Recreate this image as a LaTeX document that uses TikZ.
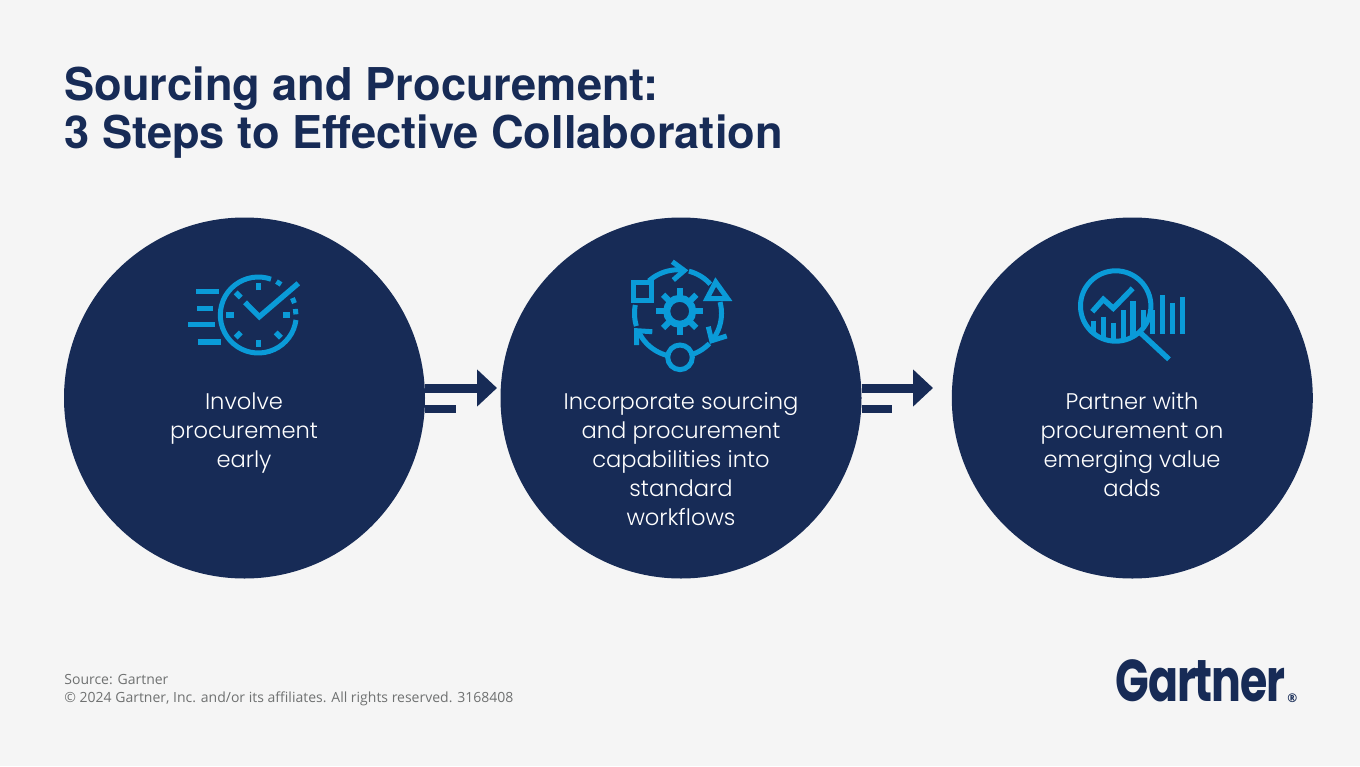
\documentclass[tikz,border=0pt]{standalone}
\usepackage{fontspec}
\usepackage{graphicx}
\usetikzlibrary{arrows.meta}
\setmainfont{Poppins}
\newfontfamily\titlefont{TeX Gyre Heros}
\newfontfamily\bodyfont{Poppins Light}
\newfontfamily\footfont{Open Sans}
\newfontfamily\logofont[LetterSpace=-2.5]{Poppins}
\definecolor{navy}{HTML}{172B56}
\definecolor{iconblue}{HTML}{0A9BD8}
\definecolor{pagebg}{HTML}{F5F5F5}
\definecolor{footgrey}{HTML}{6F7171}
\tikzset{
  bigdisc/.style={circle,fill=navy,draw=none,minimum size=180.5pt,inner sep=0pt,outer sep=0pt},
  bodytext/.style={text=white,align=center,anchor=north,inner sep=0pt,font=\bodyfont\fontsize{11.3}{14.5}\selectfont},
  flowline/.style={draw=navy,line width=4.5pt,-{Triangle[length=10pt,width=18pt]}},
  stubline/.style={draw=navy,line width=4pt},
  iconline/.style={draw=iconblue,line width=2.5pt,line join=miter},
  iconthick/.style={draw=iconblue,line width=2.7pt,line join=miter}
}
\newcommand{\arcpx}[6][iconline]{\draw[#1] plot[domain=#5:#6,samples=40] ({#2+#4*cos(\x)},{#3+#4*sin(\x)});}
\newcommand{\firstline}{\rule{0pt}{9.6pt}}
\begin{document}
\begin{tikzpicture}[x=0.5pt,y=-0.5pt]
\fill[pagebg] (0,0) rectangle (1360,766);
\useasboundingbox (0,0) rectangle (1360,766);
\node[anchor=north west,inner sep=0pt,text=navy,font=\titlefont\bfseries\fontsize{22.6}{24}\selectfont,align=left] (title) at (64,66) {Sourcing and Procurement:\\3 Steps to Effective Collaboration};

\node[bigdisc] (c1) at (244.5,398) {};
\node[bigdisc] (c2) at (681,398) {};
\node[bigdisc] (c3) at (1132.3,398) {};

\coordinate (t1) at (497,388);
\coordinate (s1) at (456,409);
\coordinate (t2) at (933,388);
\coordinate (s2) at (892,409);
\draw[flowline] (c1.east |- t1) -- (t1);
\draw[stubline] (c1.east |- s1) -- (s1);
\draw[flowline] (c2.east |- t2) -- (t2);
\draw[stubline] (c2.east |- s2) -- (s2);

\node[bodytext] (l1) at (244,390) {\firstline Involve\\procurement\\early};
\node[bodytext] (l2) at (681,390) {\firstline Incorporate sourcing\\and procurement\\capabilities into\\standard\\workflows};
\node[bodytext] (l3) at (1132,390) {\firstline Partner with\\procurement on\\emerging value\\adds};

% clock icon
\arcpx{258.3}{315}{38}{-352.5}{-70.5}
\foreach \a in {0,45,90,135,180,225,270}
  \draw[iconthick] ({258.3+24.7*cos(\a)},{315+24.7*sin(\a)}) -- ({258.3+32*cos(\a)},{315+32*sin(\a)});
\foreach \a/\r in {-57.4/38,-22.3/38,-5.1/37.5}
  \draw[iconthick] ({258.3+(\r-2.5)*cos(\a)},{315+(\r-2.5)*sin(\a)}) -- ({258.3+(\r+2.5)*cos(\a)},{315+(\r+2.5)*sin(\a)});
\draw[iconthick] (245,302.3) -- (259.3,316.7) -- (298.3,283.3);
\draw[iconthick] (196,291.7) -- (219,291.7);
\draw[iconthick] (197.3,308.3) -- (213.3,308.3);
\draw[iconthick] (188.3,324.7) -- (215,324.7);
\draw[iconthick] (197.7,342) -- (220.7,342);

% process icon
\arcpx{678}{313.3}{43.5}{228}{278}
\arcpx{678}{313.3}{43.5}{284.5}{318}
\arcpx{678}{313.3}{43.5}{345}{398}
\arcpx{678}{313.3}{43.5}{44}{71.7}
\arcpx{678}{313.3}{43.5}{105}{155}
\arcpx{678}{313.3}{43.5}{163}{191}
\draw[iconline] (672.3,261.7) -- (684.3,270.5) -- (673.3,280);
\draw[iconline] (708.3,326.7) -- (711.7,340.7) -- (726.7,336);
\draw[iconline] (636.7,345) -- (636.7,330.7) -- (652.3,331.7);
\draw[iconline] (633.5,282.5) rectangle (651,300);
\draw[iconline] (715.7,282) -- (727.5,298.5) -- (707,298.5) -- cycle;
\draw[iconline] (680,357.3) circle[radius=6.15pt];
\draw[draw=iconblue,line width=3.5pt] (679.7,311.3) circle[radius=6.5pt];
\foreach \a in {0,45,...,315}
  \draw[draw=iconblue,line width=3pt] ({679.7+14*cos(\a)},{311.3+14*sin(\a)}) -- ({679.7+23.5*cos(\a)},{311.3+23.5*sin(\a)});

% analytics icon
\draw[iconline] (1115.7,306) circle[radius=17.6pt];
\draw[iconthick] (1141,333.3) -- (1169,359.3);
\draw[iconthick] (1092.3,311.7) -- (1103.3,299.3) -- (1113.3,308.3) -- (1132.7,288.3);
\foreach \bx/\bt/\bb in {1093.3/320.7/333,1103.3/316.7/337,1113.3/322.7/339,1123.3/310/340,1133/300.7/336,1143.3/310/329,1152.3/310/334,1162.7/295/334,1172.7/302.7/334,1182.7/296.7/334}
  \draw[iconthick] (\bx,\bt) -- (\bx,\bb);

% footer
\node[anchor=north west,inner sep=0pt,text=footgrey,align=left,font=\footfont\fontsize{7}{9}\selectfont] (foot) at (64,674) {Source: Gartner\\\textcopyright{} 2024 Gartner, Inc. and/or its affiliates. All rights reserved. 3168408};
\node[anchor=base west,inner sep=0pt,text=navy,font=\logofont\bfseries\fontsize{29.5}{30}\selectfont] (logo) at (1115,701) {\scalebox{0.75}[1]{Gartner}};
\node[anchor=base west,inner sep=0pt,text=navy,font=\footfont\bfseries\fontsize{6}{7}\selectfont] (reg) at (1287,702) {\textregistered};
\end{tikzpicture}
\end{document}
